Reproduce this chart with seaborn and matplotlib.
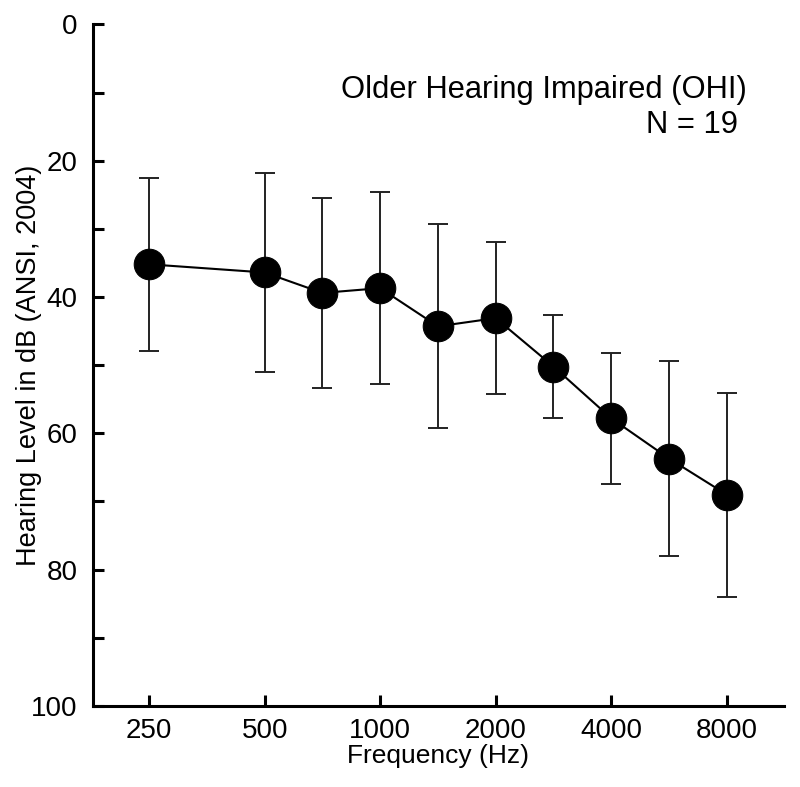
import numpy as np
import pandas as pd
import matplotlib
matplotlib.use("Agg")
import matplotlib.pyplot as plt
import seaborn as sns

# Audiogram data
freqs = [250, 500, 750, 1000, 1500, 2000, 3000, 4000, 6000, 8000]
mean_hl = [35.2, 36.4, 39.4, 38.7, 44.3, 43.1, 50.2, 57.8, 63.7, 69.0]
sd_hl = [12.65, 14.65, 14.0, 14.05, 14.95, 11.15, 7.6, 9.65, 14.25, 14.95]
octave_ticks = [250, 500, 1000, 2000, 4000, 8000]
group_label = "Older Hearing Impaired (OHI)"
n_label = "N = 19"

df = pd.DataFrame({"freq": freqs, "mean": mean_hl, "sd": sd_hl})

sns.set_theme(style="ticks")
plt.rcParams["font.family"] = ["Liberation Sans", "DejaVu Sans"]
plt.rcParams["text.color"] = "black"
plt.rcParams["axes.labelcolor"] = "black"


# audiogram x scale: octaves equally spaced, linear inside each octave
def fwd(f):
    f = np.clip(np.asarray(f, dtype=float), 1e-6, None)
    o = np.floor(np.log2(f / 250.0))
    return o + f / (250.0 * 2.0 ** o) - 1.0


def inv(p):
    p = np.asarray(p, dtype=float)
    o = np.floor(p)
    return 250.0 * 2.0 ** o * (1.0 + p - o)


fig = plt.figure(figsize=(8, 7.87), dpi=100)
ax = fig.add_axes([0.116, 0.103, 0.864, 0.866])
ax.set_xscale("function", functions=(fwd, inv))

ax.errorbar(df["freq"], df["mean"], yerr=df["sd"], fmt="none",
            ecolor="#222222", elinewidth=1.4, capsize=7.5, capthick=1.4, zorder=2)
sns.lineplot(data=df, x="freq", y="mean", ax=ax, color="black", lw=1.5,
             marker="o", markersize=22, markeredgecolor="black", zorder=3)

ax.set_xlim(inv(-0.487), inv(5.495))
ax.set_ylim(100, 0)
ax.set_xticks(octave_ticks)
ax.set_xticklabels([str(t) for t in octave_ticks])
ax.xaxis.set_minor_locator(matplotlib.ticker.NullLocator())
ax.set_yticks(range(0, 101, 20))
ax.set_yticks(range(10, 100, 20), minor=True)

for side in ["top", "right"]:
    ax.spines[side].set_visible(False)
for side in ["left", "bottom"]:
    ax.spines[side].set_linewidth(2.2)
    ax.spines[side].set_color("black")
ax.tick_params(axis="both", which="both", direction="in", width=2.2,
               length=8, labelsize=20, colors="black")
ax.tick_params(axis="y", which="major", pad=11)
ax.tick_params(axis="x", which="major", pad=9)

ax.set_xlabel("Frequency (Hz)", fontsize=19, labelpad=0)
ax.set_ylabel("Hearing Level in dB (ANSI, 2004)", fontsize=19.5)
ax.yaxis.set_label_coords(-0.074, 0.5)

ax.text(0.946, 0.892, group_label, transform=ax.transAxes, ha="right",
        va="baseline", fontsize=22.2)
ax.text(0.933, 0.841, n_label, transform=ax.transAxes, ha="right",
        va="baseline", fontsize=22.2)

fig.savefig("out.png", dpi=100)
